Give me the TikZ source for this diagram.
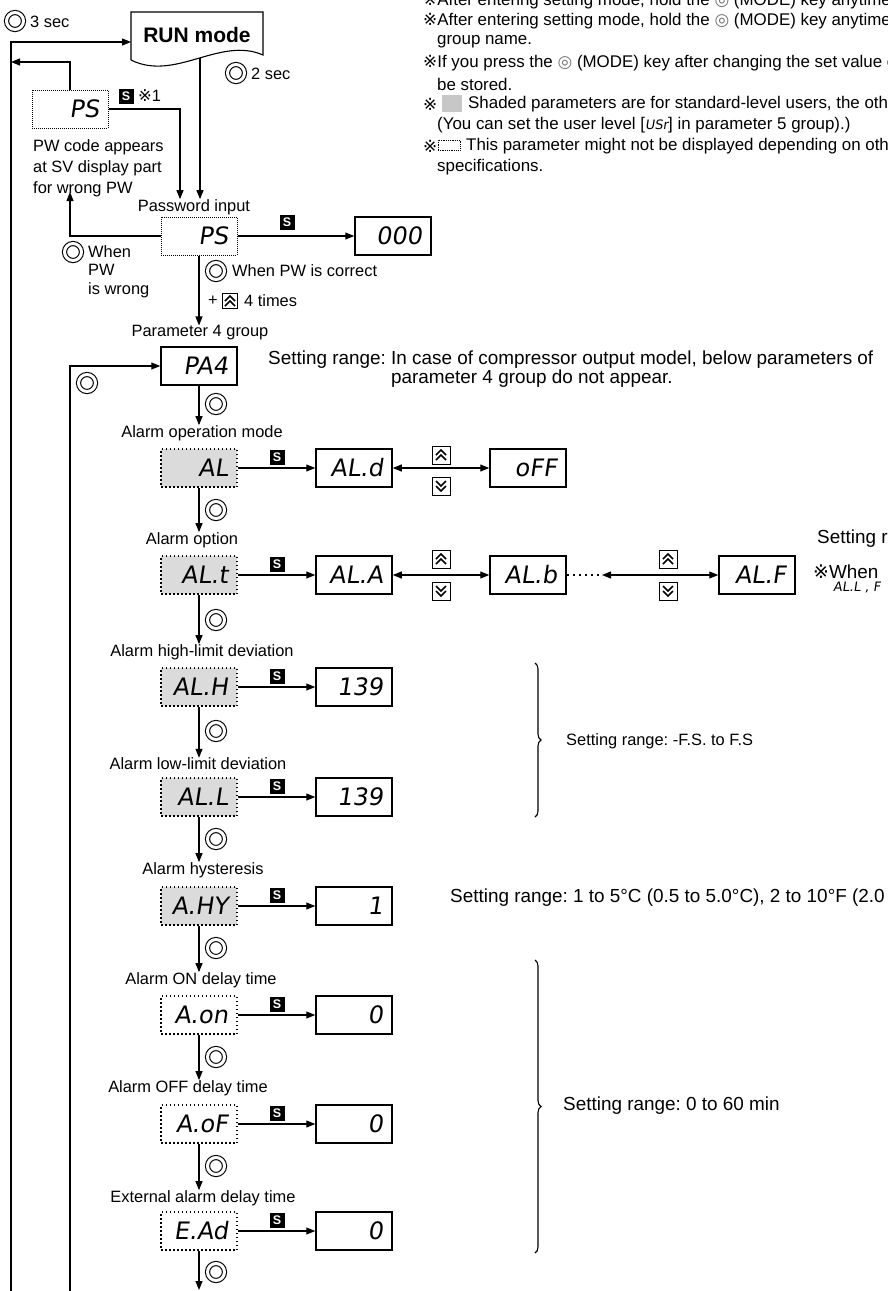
\documentclass[tikz,border=0pt]{standalone}
\usepackage{fontspec}
\setmainfont{Liberation Sans}
\newfontfamily\dejavu{DejaVu Sans}
\newfontfamily\segfont{DejaVu Sans}[FakeSlant=0.15]
\usetikzlibrary{arrows.meta,decorations.pathreplacing}
\newcommand\lblsize{\fontsize{16.4pt}{19pt}\selectfont}
\newcommand\notesize{\fontsize{16.9pt}{19pt}\selectfont}
\newcommand\bigsize{\fontsize{18.9pt}{19pt}\selectfont}
\newcommand\segsize{\fontsize{24pt}{26pt}\selectfont}
\newcommand\refmark{{\dejavu ※}}
\newcommand\modesym{{\dejavu\color{black!55}◎}}
\frenchspacing

\begin{document}
\begin{tikzpicture}[
  x=1pt, y=-1pt,
  lbl/.style={font=\lblsize, inner sep=0pt},
  note/.style={font=\notesize, inner sep=0pt, anchor=west},
  bignote/.style={font=\bigsize, inner sep=0pt, anchor=west},
  seg/.style={font=\segsize\segfont, text width=58pt, align=right, minimum height=38pt, inner xsep=9pt, inner ysep=0pt},
  dispbox/.style={seg, draw, line width=1.5pt},
  parbox/.style={seg, draw, dash pattern=on 1.5pt off 2.5pt, line width=1.5pt},
  shaded/.style={parbox, fill=black!14},
  pwbox/.style={seg, draw, densely dotted, line width=1pt},
  skey/.style={fill=black, text=white, font=\fontsize{12.5pt}{12.5pt}\selectfont\bfseries, minimum size=15pt, inner sep=0pt},
  modekey/.style={circle, draw, double, double distance=3pt, line width=1.1pt, minimum size=17pt, inner sep=0pt},
  upkey/.style={draw, line width=1pt, minimum size=18pt, inner sep=0pt,
    path picture={\draw[shift={(path picture bounding box.center)}, line width=1.7pt] (-5,0)--(0,-5)--(5,0) (-5,5)--(0,0)--(5,5);}},
  downkey/.style={draw, line width=1pt, minimum size=18pt, inner sep=0pt,
    path picture={\draw[shift={(path picture bounding box.center)}, line width=1.7pt] (-5,-5)--(0,0)--(5,-5) (-5,0)--(0,5)--(5,0);}},
  arr/.style={-{Triangle[length=9pt,width=7pt]}, line width=1.1pt},
  dbl/.style={{Triangle[length=9pt,width=7pt]}-{Triangle[length=9pt,width=7pt]}, line width=1.1pt},
  dotline/.style={line width=2.2pt, dash pattern=on 2.2pt off 3.8pt},
  brc/.style={decorate, decoration={brace, amplitude=6pt}, line width=1.1pt}
]
  \useasboundingbox (0,0) rectangle (888,1291);
  \clip (0,0) rectangle (888,1291);

  % Notes at the top right
  \node[note] (n0) at (423,1) {\refmark After entering setting mode, hold the \modesym{} (MODE) key anytime};
  \node[note] (n1) at (423,21) {\refmark After entering setting mode, hold the \modesym{} (MODE) key anytime};
  \node[note] (n2) at (437,42) {group name.};
  \node[note] (n3) at (423,63) {\refmark If you press the \modesym{} (MODE) key after changing the set value o};
  \node[note] (n4) at (437,84) {be stored.};
  \node[note] (n5) at (423,104) {\refmark};
  \node[fill=black!22, minimum width=20pt, minimum height=17pt, inner sep=0pt] (swg) at (452,103) {};
  \node[note] (n5t) at (468,104) {Shaded parameters are for standard-level users, the oth};
  \node[note] (n6) at (437,125) {(You can set the user level [{\fontsize{13pt}{13pt}\segfont USr}] in parameter 5 group).)};
  \node[note] (n7) at (423,146) {\refmark};
  \node[draw, densely dotted, line width=0.8pt, minimum width=22pt, minimum height=10pt, inner sep=0pt] (swd) at (449,145) {};
  \node[note] (n7t) at (466,146) {This parameter might not be displayed depending on other p};
  \node[note] (n8) at (437,167) {specifications.};

  % RUN mode
  \draw[line width=1.1pt] (131,60) -- (131,12) -- (263,12) -- (263,55) .. controls (220,36) and (175,82) .. (131,60);
  \node[font=\fontsize{21pt}{21pt}\selectfont\bfseries, inner sep=0pt] (run) at (197,35) {RUN mode};
  \coordinate (runw) at (131,42);
  \coordinate (runs) at (200,58);
  \node[modekey] (m2s) at (236,73) {};
  \node[lbl, anchor=west] (t2s) at (251,74) {2 sec};

  % Back to RUN mode
  \coordinate (outbot) at (11,1291);
  \draw[arr] (outbot) |- (runw);
  \node[modekey] (m3s) at (15,21) {};
  \node[lbl, anchor=west] (t3s) at (30,22) {3 sec};

  % Wrong password display
  \node[pwbox] (pws) at (70,109) {PS};
  \node[skey] (sws) at (126,96) {S};
  \node[lbl, anchor=west] (x1) at (138,96) {\refmark 1};
  \coordinate (outp) at (11,62);
  \draw[arr] (pws.north) |- (outp);
  \node[lbl, align=left, anchor=north west, font=\fontsize{16.4pt}{21pt}\selectfont] (pwnote) at (33,139) {PW code appears\\at SV display part\\for wrong PW};

  % Password input
  \node[lbl] (lpw) at (194,207) {Password input};
  \draw[arr] (runs) -- (runs |- lpw.north);
  \draw[arr] (pws.east) -| ([xshift=-14pt]lpw.north);
  \node[pwbox] (pw) at (199,236) {PS};
  \node[skey] (spw) at (287,222) {S};
  \node[dispbox] (p000) at (393,236) {000};
  \draw[arr] (pw) -- (p000);
  \coordinate (pwup) at (70,192);
  \draw[arr] (pw.west) -| (pwup);
  \node[modekey] (mw) at (73,252) {};
  \node[lbl, align=left, anchor=north west, font=\fontsize{16.4pt}{18.5pt}\selectfont] (lw) at (88,245) {When\\PW\\is wrong};

  % Password correct
  \node[lbl] (lpa4) at (200,333) {Parameter 4 group};
  \draw[arr] (pw.south) -- (pw.south |- lpa4.north);
  \node[modekey] (mc) at (216,271) {};
  \node[lbl, anchor=west] (lc) at (232,271) {When PW is correct};
  \node[lbl] (plus) at (213,301) {+};
  \node[upkey, minimum size=15pt] (kc) at (230,301) {};
  \node[lbl, anchor=west] (lt) at (244,301) {4 times};

  % Parameter 4 group
  \node[dispbox] (pa4) at (199,366) {PA4};
  \coordinate (inbot) at (70,1291);
  \draw[arr] (inbot) |- (pa4.west);
  \node[modekey] (ml) at (87,383) {};
  \node[bignote, align=left] (nsr) at (268,369) {Setting range: In case of compressor output model, below parameters of\\\phantom{Setting range: }parameter 4 group do not appear.};

  % Alarm operation mode
  \node[lbl] (lal) at (202,433) {Alarm operation mode};
  \draw[arr] (pa4.south) -- (pa4.south |- lal.north);
  \node[modekey] (m1) at (216,404) {};
  \node[shaded] (al) at (199,468) {AL};
  \node[skey] (s1) at (277,457) {S};
  \node[dispbox] (ald) at (354,468) {AL.d};
  \node[dispbox] (off) at (528,468) {oFF};
  \draw[arr] (al) -- (ald);
  \draw[dbl] (ald) -- (off);
  \node[upkey] (u1) at (441,455) {};
  \node[downkey] (d1) at (441,486) {};

  % Alarm option
  \node[lbl] (lalt) at (192,540) {Alarm option};
  \draw[arr] (al.south) -- (al.south |- lalt.north);
  \node[modekey] (m2) at (216,510) {};
  \node[shaded] (alt) at (199,575) {AL.t};
  \node[skey] (s2) at (277,564) {S};
  \node[dispbox] (ala) at (354,575) {AL.A};
  \node[dispbox] (alb) at (528,575) {AL.b};
  \node[dispbox] (alf) at (757,575) {AL.F};
  \coordinate (dots) at (602,575);
  \draw[arr] (alt) -- (ala);
  \draw[dbl] (ala) -- (alb);
  \draw[dotline] (alb.east) -- (dots);
  \draw[dbl] (dots) -- (alf);
  \node[upkey] (u2) at (441,559) {};
  \node[downkey] (d2) at (441,591) {};
  \node[upkey] (u3) at (668,559) {};
  \node[downkey] (d3) at (668,591) {};
  \node[bignote] (nsr2) at (817,539) {Setting r};
  \node[bignote] (nwh) at (813,572) {\refmark When};
  \node[anchor=west, font=\fontsize{13pt}{13pt}\segfont, inner sep=0pt] (nwh2) at (833,588) {AL.L , F};

  % Alarm high-limit deviation
  \node[lbl] (lalh) at (202,652) {Alarm high-limit deviation};
  \draw[arr] (alt.south) -- (alt.south |- lalh.north);
  \node[modekey] (m3) at (216,620) {};
  \node[shaded] (alh) at (199,687) {AL.H};
  \node[skey] (s3) at (277,676) {S};
  \node[dispbox] (vh) at (354,687) {139};
  \draw[arr] (alh) -- (vh);

  % Alarm low-limit deviation
  \node[lbl] (lall) at (198,764) {Alarm low-limit deviation};
  \draw[arr] (alh.south) -- (alh.south |- lall.north);
  \node[modekey] (m4) at (216,731) {};
  \node[shaded] (all) at (199,797) {AL.L};
  \node[skey] (s4) at (277,786) {S};
  \node[dispbox] (vl) at (354,797) {139};
  \draw[arr] (all) -- (vl);
  \draw[brc] (535,663) -- (535,817);
  \node[lbl, anchor=west] (nfs) at (566,741) {Setting range: -F.S. to F.S};

  % Alarm hysteresis
  \node[lbl] (lahy) at (203,870) {Alarm hysteresis};
  \draw[arr] (all.south) -- (all.south |- lahy.north);
  \node[modekey] (m5) at (216,839) {};
  \node[shaded] (ahy) at (199,906) {A.HY};
  \node[skey] (s5) at (277,895) {S};
  \node[dispbox] (vhy) at (354,906) {1};
  \draw[arr] (ahy) -- (vhy);
  \node[bignote] (nhy) at (450,898) {Setting range: 1 to 5°C (0.5 to 5.0°C), 2 to 10°F (2.0};

  % Alarm ON delay time
  \node[lbl] (laon) at (201,980) {Alarm ON delay time};
  \draw[arr] (ahy.south) -- (ahy.south |- laon.north);
  \node[modekey] (m6) at (216,948) {};
  \node[parbox] (aon) at (199,1015) {A.on};
  \node[skey] (s6) at (277,1004) {S};
  \node[dispbox] (von) at (354,1015) {0};
  \draw[arr] (aon) -- (von);

  % Alarm OFF delay time
  \node[lbl] (laof) at (188,1088) {Alarm OFF delay time};
  \draw[arr] (aon.south) -- (aon.south |- laof.north);
  \node[modekey] (m7) at (216,1057) {};
  \node[parbox] (aof) at (199,1124) {A.oF};
  \node[skey] (s7) at (277,1113) {S};
  \node[dispbox] (vof) at (354,1124) {0};
  \draw[arr] (aof) -- (vof);

  % External alarm delay time
  \node[lbl] (lead) at (203,1198) {External alarm delay time};
  \draw[arr] (aof.south) -- (aof.south |- lead.north);
  \node[modekey] (m8) at (216,1166) {};
  \node[parbox] (ead) at (199,1231) {E.Ad};
  \node[skey] (s8) at (277,1220) {S};
  \node[dispbox] (vad) at (354,1231) {0};
  \draw[arr] (ead) -- (vad);
  \coordinate (endp) at (199,1290);
  \draw[arr] (ead.south) -- (endp);
  \node[modekey] (m9) at (216,1272) {};
  \draw[brc] (535,960) -- (535,1253);
  \node[bignote] (n60) at (563,1106) {Setting range: 0 to 60 min};
\end{tikzpicture}
\end{document}
